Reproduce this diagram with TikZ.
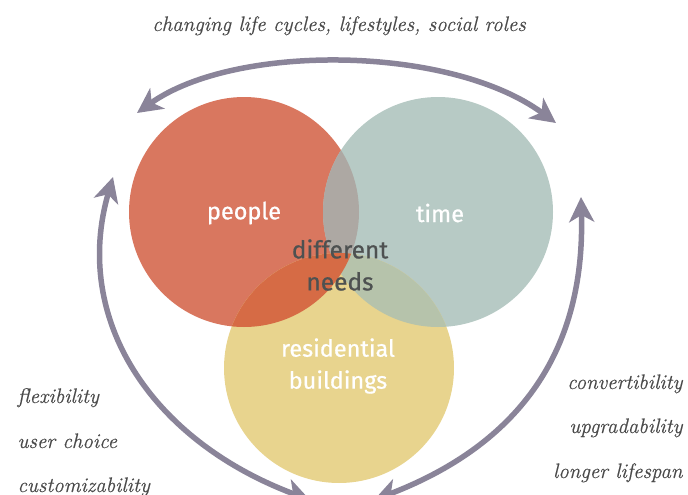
\documentclass[tikz,border=0pt]{standalone}
\usepackage{fontspec}
\usetikzlibrary{arrows.meta}
\newfontfamily\vennfont{Fira Sans}[FakeBold=0.7]
\newfontfamily\notefont{Latin Modern Roman}[ItalicFeatures={FakeBold=0.4}]

\definecolor{peoplered}{HTML}{D9775F}
\definecolor{timegreen}{HTML}{B7CAC5}
\definecolor{buildyellow}{HTML}{E8D48E}
\definecolor{redyellow}{HTML}{D66B45}
\definecolor{redtime}{HTML}{ADA8A3}
\definecolor{timeyellow}{HTML}{B6C3AB}
\definecolor{arrowgrey}{HTML}{8A8499}
\definecolor{textgrey}{HTML}{4A4A4A}
\definecolor{needsgrey}{HTML}{4E5151}

\begin{document}
\begin{tikzpicture}[x=1pt,y=-1pt,
  cyclearrow/.style={arrowgrey,line width=5.5pt,
    {Stealth[length=25pt,width=25pt,inset=7pt]}-{Stealth[length=25pt,width=25pt,inset=7pt]}},
  venn/.style={font=\vennfont\fontsize{23.5}{32}\selectfont,align=center,text=white},
  note/.style={font=\notefont\itshape\fontsize{21}{24}\selectfont,text=textgrey}]
\useasboundingbox (0,0) rectangle (688,495);

\coordinate (p) at (244,212);
\coordinate (t) at (438,212);
\coordinate (b) at (339,368);

\fill[peoplered] (p) circle (115pt);
\fill[timegreen] (t) circle (115pt);
\fill[buildyellow] (b) circle (115pt);

% overlaps
\begin{scope}
\clip (p) circle (115pt);
\fill[redtime] (t) circle (115pt);
\end{scope}
\begin{scope}
\clip (t) circle (115pt);
\fill[timeyellow] (b) circle (115pt);
\end{scope}
\begin{scope}
\clip (p) circle (115pt);
\fill[redyellow] (b) circle (115pt);
\end{scope}

\node[venn] (people) at (244,213) {people};
\node[venn] (time) at (440,213) {time};
\node[venn,text=needsgrey,font=\vennfont\fontsize{24.5}{32}\selectfont] (needs) at (340,265) {different\\needs};
\node[venn] (buildings) at (338,366) {residential\\buildings};

\node[note,anchor=base] (roles) at (339,31) {changing life cycles, lifestyles, social roles};

\node[note,anchor=base west] (flex) at (14,403) {flexibility};
\node[note,anchor=base west] (choice) at (14,448) {user choice};
\node[note,anchor=base west] (custom) at (14,492) {customizability};

\node[note,anchor=base east] (convert) at (686,389) {convertibility};
\node[note,anchor=base east] (upgrade) at (686,433) {upgradability};
\node[note,anchor=base east] (lifespan) at (686,478) {longer lifespan};

% arrows
\coordinate (topL) at (137,113);
\coordinate (topR) at (556,123);
\coordinate (leftT) at (113,177);
\coordinate (leftB) at (310,500);
\coordinate (rightT) at (581,197);
\coordinate (rightB) at (374,500);
\draw[cyclearrow] (topL) .. controls (235,43) and (450,45) .. (topR);
\draw[cyclearrow] (leftT) .. controls (72,318) and (150,440) .. (leftB);
\draw[cyclearrow] (rightT) .. controls (585,340) and (530,440) .. (rightB);

\end{tikzpicture}
\end{document}
